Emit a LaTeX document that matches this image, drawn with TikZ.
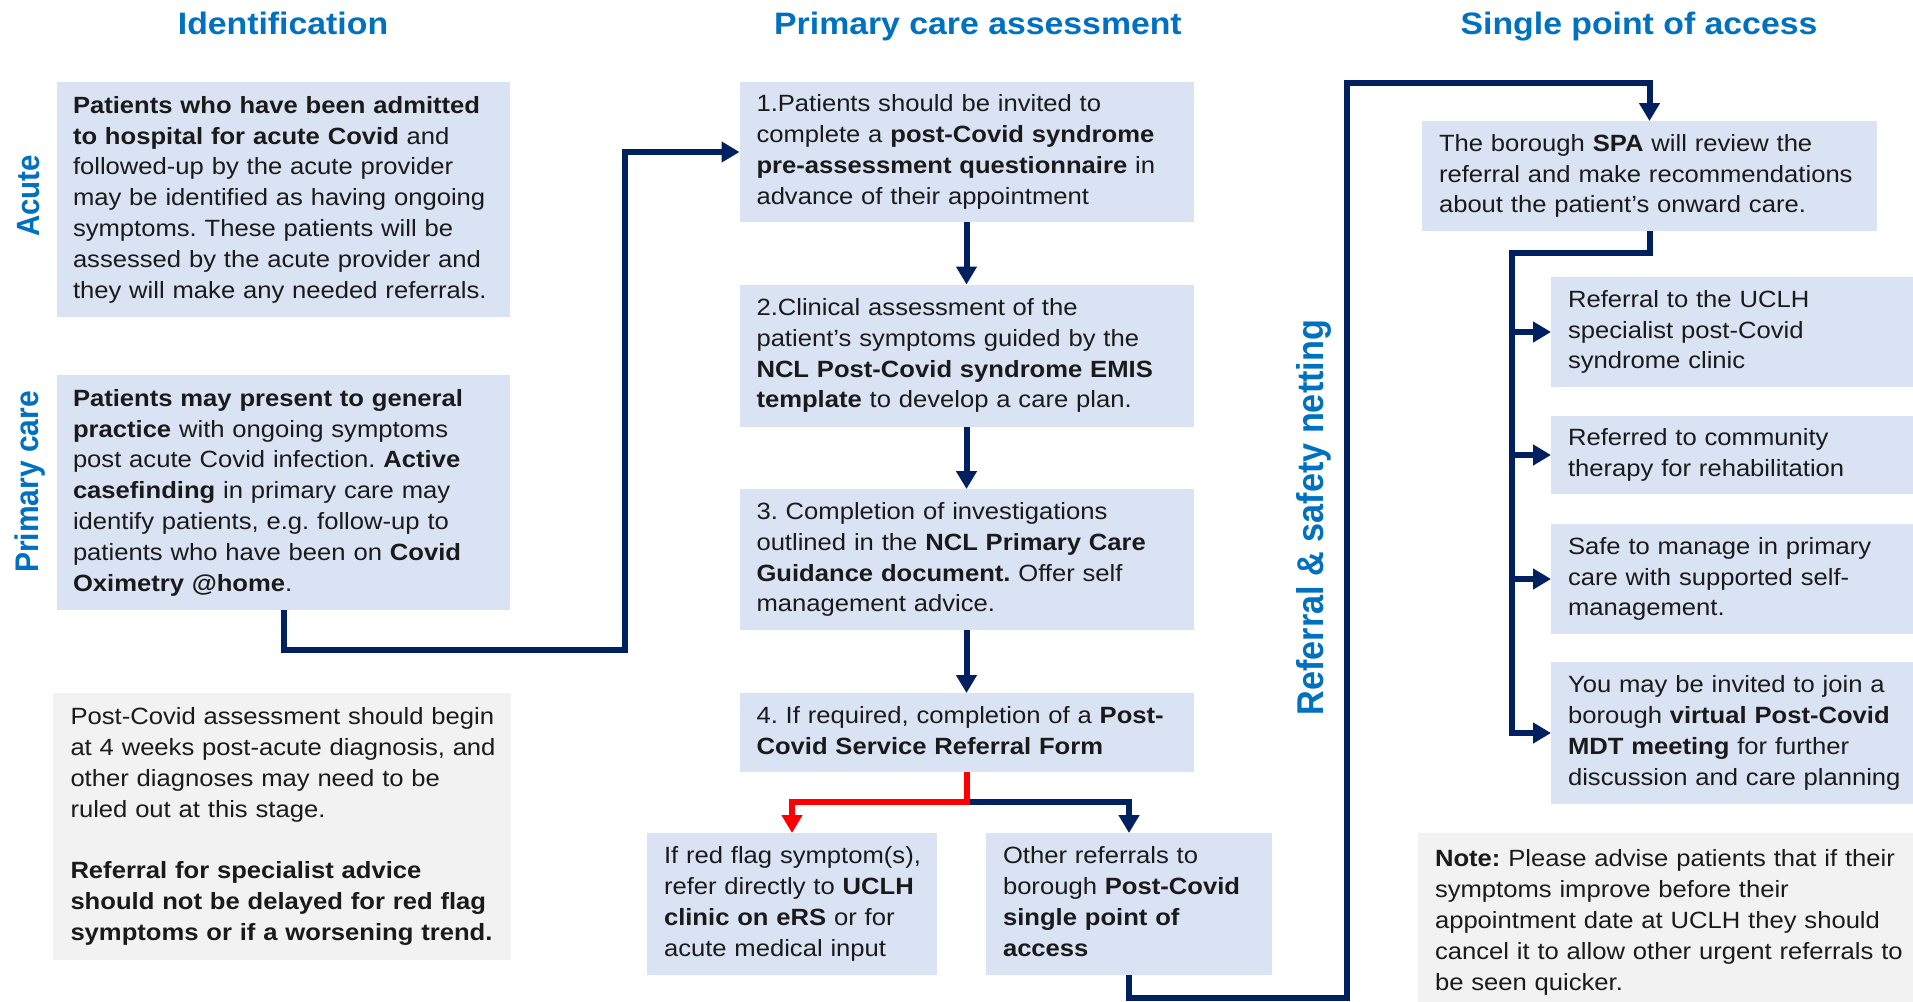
\documentclass[tikz,border=0pt]{standalone}
\usepackage{fontspec}
\setmainfont{Liberation Sans}[FakeStretch=1.09]
\newfontfamily\plainsans{Liberation Sans}
\usetikzlibrary{arrows.meta}
\definecolor{navy}{HTML}{002060}
\definecolor{headblue}{HTML}{0070C0}
\definecolor{boxblue}{HTML}{DAE3F3}
\definecolor{boxgrey}{HTML}{F2F2F2}
\definecolor{textc}{HTML}{1A1A1A}
\definecolor{flagred}{HTML}{FF0000}
\newcommand\tx[1]{\begin{tabular}{@{}l@{}}#1\end{tabular}}
\frenchspacing
\begin{document}
\frenchspacing
\begin{tikzpicture}[x=1pt,y=-1pt,
  bodyfont/.style={font=\frenchspacing\fontsize{23.5pt}{30.8pt}\selectfont},
  bluebox/.style={bodyfont, fill=boxblue, text=textc, inner xsep=17pt, inner ysep=0pt, outer sep=0pt, align=left},
  greybox/.style={bluebox, fill=boxgrey},
  heading/.style={font=\fontsize{31pt}{36pt}\selectfont\bfseries, text=headblue, inner sep=0pt},
  sidelabel/.style={font=\plainsans\bfseries\fontsize{#1}{#1}\selectfont, text=headblue, inner sep=0pt, transform shape, rotate=90, anchor=base},
  navyline/.style={draw=navy, line width=6pt},
  navyarrow/.style={navyline, -{Triangle[length=18pt,width=20pt]}},
  redarrow/.style={draw=flagred, line width=6pt, -{Triangle[length=18pt,width=20pt]}},
]
\path[fill=white] (0,0) rectangle (1913,1001);
\useasboundingbox (0,0) rectangle (1913,1001);

% headings
\node[heading, anchor=base] (hid) at (283,34.5) {Identification};
\node[heading, anchor=base] (hpca) at (978,34.5) {Primary care assessment};
\node[heading, anchor=base] (hspa) at (1639,34.5) {Single point of access};

% side labels
\begin{scope}[xscale=1.09]
\node[sidelabel=29.5pt] (lacute) at (36.05,196) {Acute};
\node[sidelabel=30pt] (lpc) at (35.7,482) {Primary care};
\node[sidelabel=34.2pt] (lref) at (1213.8,517.5) {Referral \& safety netting};
\end{scope}

% identification column
\node[bluebox, inner xsep=16pt, text width=421pt, minimum width=453pt, minimum height=235pt] (acute) at (283.5,199.5)
 {\tx{\textbf{Patients who have been admitted}\\
 \textbf{to hospital for acute Covid} and\\
 followed-up by the acute provider\\
 may be identified as having ongoing\\
 symptoms. These patients will be\\
 assessed by the acute provider and\\
 they will make any needed referrals.}};
\node[bluebox, inner xsep=16pt, text width=421pt, minimum width=453pt, minimum height=235pt] (pcare) at (283.5,492.5)
 {\tx{\textbf{Patients may present to general}\\
 \textbf{practice} with ongoing symptoms\\
 post acute Covid infection. \textbf{Active}\\
 \textbf{casefinding} in primary care may\\
 identify patients, e.g. follow-up to\\
 patients who have been on \textbf{Covid}\\
 \textbf{Oximetry @home}.}};
\node[greybox, inner xsep=18pt, text width=422pt, minimum width=458pt, minimum height=267pt] (gnote) at (281.5,826.5)
 {\tx{Post-Covid assessment should begin\\
 at 4 weeks post-acute diagnosis, and\\
 other diagnoses may need to be\\
 ruled out at this stage.\\
 \\
 \textbf{Referral for specialist advice}\\
 \textbf{should not be delayed for red flag}\\
 \textbf{symptoms or if a worsening trend.}}};

% primary care assessment column
\node[bluebox, text width=420pt, minimum width=454pt, minimum height=140pt] (box1) at (966.5,152)
 {\tx{1.Patients should be invited to\\
 complete a \textbf{post-Covid syndrome}\\
 \textbf{pre-assessment questionnaire} in\\
 advance of their appointment}};
\node[bluebox, text width=420pt, minimum width=454pt, minimum height=142pt] (box2) at (966.5,355.5)
 {\tx{2.Clinical assessment of the\\
 patient’s symptoms guided by the\\
 \textbf{NCL Post-Covid syndrome EMIS}\\
 \textbf{template} to develop a care plan.}};
\node[bluebox, text width=420pt, minimum width=454pt, minimum height=141pt] (box3) at (966.5,559.5)
 {\tx{3. Completion of investigations\\
 outlined in the \textbf{NCL Primary Care}\\
 \textbf{Guidance document.} Offer self\\
 management advice.}};
\node[bluebox, text width=420pt, minimum width=454pt, minimum height=79pt] (box4) at (966.5,732.5)
 {\tx{4. If required, completion of a \textbf{Post-}\\
 \textbf{Covid Service Referral Form}}};
\node[bluebox, text width=256pt, minimum width=290pt, minimum height=142pt] (redflag) at (792,904)
 {\tx{If red flag symptom(s),\\
 refer directly to \textbf{UCLH}\\
 \textbf{clinic on eRS} or for\\
 acute medical input}};
\node[bluebox, text width=252pt, minimum width=286pt, minimum height=142pt] (other) at (1129,904)
 {\tx{Other referrals to\\
 borough \textbf{Post-Covid}\\
 \textbf{single point of}\\
 \textbf{access}}};

% single point of access column
\node[bluebox, text width=421pt, minimum width=455pt, minimum height=110pt] (spa) at (1649.5,176)
 {\tx{The borough \textbf{SPA} will review the\\
 referral and make recommendations\\
 about the patient’s onward care.}};
\node[bluebox, text width=386pt, minimum width=420pt, minimum height=110pt] (rA) at (1761,332)
 {\tx{Referral to the UCLH\\
 specialist post-Covid\\
 syndrome clinic}};
\node[bluebox, text width=386pt, minimum width=420pt, minimum height=78pt] (rB) at (1761,455)
 {\tx{Referred to community\\
 therapy for rehabilitation}};
\node[bluebox, text width=386pt, minimum width=420pt, minimum height=110pt] (rC) at (1761,579)
 {\tx{Safe to manage in primary\\
 care with supported self-\\
 management.}};
\node[bluebox, text width=386pt, minimum width=420pt, minimum height=142pt] (rD) at (1761,733)
 {\tx{You may be invited to join a\\
 borough \textbf{virtual Post-Covid}\\
 \textbf{MDT meeting} for further\\
 discussion and care planning}};
\node[greybox, text width=526pt, minimum width=560pt, minimum height=179pt] (noteR) at (1698,922.3)
 {\tx{\textbf{Note:} Please advise patients that if their\\
 symptoms improve before their\\
 appointment date at UCLH they should\\
 cancel it to allow other urgent referrals to\\
 be seen quicker.}};

% connectors
\coordinate (c1) at (625,649.5);
\draw[navyarrow] (pcare.south) |- (c1) |- (box1.west);
\draw[navyarrow] (box1.south) -- (box2.north);
\draw[navyarrow] (box2.south) -- (box3.north);
\draw[navyarrow] (box3.south) -- (box4.north);
\coordinate (split) at (966.5,802);
\draw[navyarrow] (split) -| (other.north);
\draw[redarrow] (box4.south) -- (split) -| (redflag.north);
\coordinate (b1) at (1347,997.5);
\coordinate (b2) at (1347,82.5);
\draw[navyarrow] (other.south) |- (b1) -- (b2) -| (spa.north);
\coordinate (t1) at (1512,253);
\draw[navyarrow] (spa.south) |- (t1) |- (rD.west);
\draw[navyarrow] (t1 |- rA.west) -- (rA.west);
\draw[navyarrow] (t1 |- rB.west) -- (rB.west);
\draw[navyarrow] (t1 |- rC.west) -- (rC.west);
\end{tikzpicture}
\end{document}
